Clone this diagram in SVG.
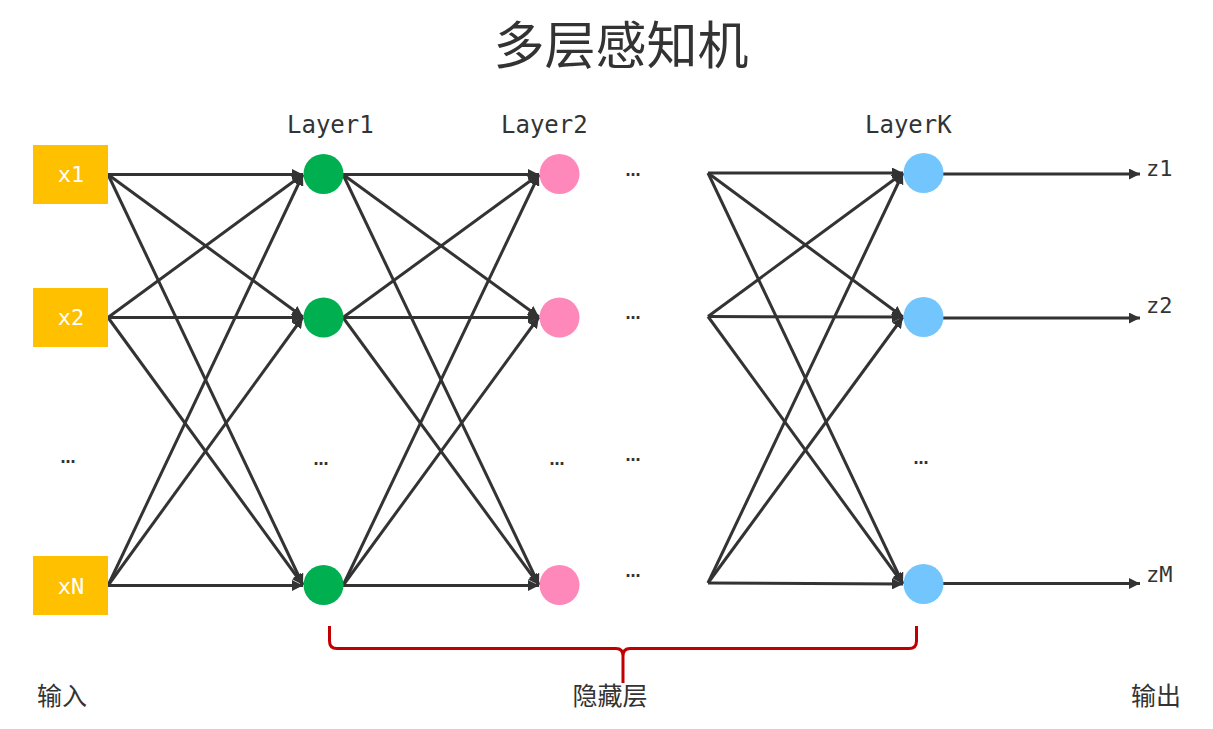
<svg xmlns="http://www.w3.org/2000/svg" width="1213" height="729" viewBox="0 0 1213 729">
<style>
.e{stroke:#333333;stroke-width:3;fill:none;marker-end:url(#ah)}
.in{fill:#FFC000}
.g{fill:#00B050}
.p{fill:#FF88BB}
.b{fill:#73C6FD}
.lbl{font-family:"DejaVu Sans Mono","Liberation Mono",monospace;font-size:24px;fill:#333333}
.zl{font-family:"DejaVu Sans Mono","Liberation Mono",monospace;font-size:22px;fill:#333333}
.xt{font-family:"DejaVu Sans Mono","Liberation Mono",monospace;font-size:22px;fill:#FFFFFF;text-anchor:middle}
.dots{font-family:"DejaVu Sans","Liberation Sans",sans-serif;font-size:15px;font-weight:bold;fill:#333333;text-anchor:middle}
.cn{font-family:"Noto Sans CJK SC","Noto Sans",sans-serif;font-size:25px;fill:#333333}
.title{font-family:"Noto Sans CJK SC","Noto Sans",sans-serif;font-size:51px;fill:#333333;text-anchor:middle}
</style>
<defs>
<marker id="ah" markerUnits="userSpaceOnUse" markerWidth="12" markerHeight="11" refX="11" refY="5.5" orient="auto">
<path d="M0,0 L11,5.5 L0,11 z" fill="#333333"/>
</marker>
</defs>
<rect width="1213" height="729" fill="#FFFFFF"/>
<text class="title" x="621" y="64">多层感知机</text>

<g id="connectors">
<line class="e" x1="108" y1="174.5" x2="303" y2="174.5"/>
<line class="e" x1="108" y1="174.5" x2="303" y2="317"/>
<line class="e" x1="108" y1="174.5" x2="303" y2="585"/>
<line class="e" x1="108" y1="317.5" x2="303" y2="174.5"/>
<line class="e" x1="108" y1="317.5" x2="303" y2="317.5"/>
<line class="e" x1="108" y1="317.5" x2="303" y2="585"/>
<line class="e" x1="108" y1="585.5" x2="303" y2="174.5"/>
<line class="e" x1="108" y1="585.5" x2="303" y2="317"/>
<line class="e" x1="108" y1="585.5" x2="303" y2="585.5"/>

<line class="e" x1="343" y1="174.5" x2="539" y2="174.5"/>
<line class="e" x1="343" y1="174.5" x2="539" y2="317"/>
<line class="e" x1="343" y1="174.5" x2="539" y2="585"/>
<line class="e" x1="343" y1="317.5" x2="539" y2="174.5"/>
<line class="e" x1="343" y1="317.5" x2="539" y2="317.5"/>
<line class="e" x1="343" y1="317.5" x2="539" y2="585"/>
<line class="e" x1="343" y1="585.5" x2="539" y2="174.5"/>
<line class="e" x1="343" y1="585.5" x2="539" y2="317"/>
<line class="e" x1="343" y1="585.5" x2="539" y2="585.5"/>

<line class="e" x1="708" y1="173" x2="903" y2="173"/>
<line class="e" x1="708" y1="173" x2="903" y2="317"/>
<line class="e" x1="708" y1="173" x2="903" y2="584"/>
<line class="e" x1="708" y1="316.5" x2="903" y2="173"/>
<line class="e" x1="708" y1="316.5" x2="903" y2="317"/>
<line class="e" x1="708" y1="316.5" x2="903" y2="584"/>
<line class="e" x1="708" y1="583" x2="903" y2="173"/>
<line class="e" x1="708" y1="583" x2="903" y2="317"/>
<line class="e" x1="708" y1="583" x2="903" y2="584"/>

<line class="e" x1="943" y1="174" x2="1140" y2="174"/>
<line class="e" x1="943" y1="318" x2="1140" y2="318"/>
<line class="e" x1="943" y1="583.5" x2="1140" y2="583.5"/>
</g>

<g id="x1"><rect class="in" x="33" y="145" width="75" height="59"/><text class="xt" x="71" y="182">x1</text></g>
<g id="x2"><rect class="in" x="33" y="288" width="75" height="59"/><text class="xt" x="71" y="325">x2</text></g>
<g id="xN"><rect class="in" x="33" y="556" width="75" height="59"/><text class="xt" x="71" y="594">xN</text></g>
<g id="in-dots"><text class="dots" x="68" y="463">…</text></g>

<g id="layer1">
<text class="lbl" x="287" y="133">Layer1</text>
<circle class="g" cx="323.5" cy="174" r="20"/>
<circle class="g" cx="323.5" cy="317.5" r="20"/>
<text class="dots" x="321" y="465">…</text>
<circle class="g" cx="323.5" cy="585" r="20"/>
</g>

<g id="layer2">
<text class="lbl" x="501" y="133">Layer2</text>
<circle class="p" cx="559.5" cy="174" r="20"/>
<circle class="p" cx="559.5" cy="317.5" r="20"/>
<text class="dots" x="557" y="465">…</text>
<circle class="p" cx="559.5" cy="585" r="20"/>
</g>

<g id="mid-dots">
<text class="dots" x="633" y="176">…</text>
<text class="dots" x="633" y="319">…</text>
<text class="dots" x="633" y="461">…</text>
<text class="dots" x="633" y="577">…</text>
</g>

<g id="layerK">
<text class="lbl" x="865" y="133">LayerK</text>
<circle class="b" cx="923.5" cy="173" r="20"/>
<circle class="b" cx="923.5" cy="317" r="20"/>
<text class="dots" x="921" y="464">…</text>
<circle class="b" cx="923.5" cy="584" r="20"/>
</g>

<g id="outputs">
<text class="zl" x="1146" y="176">z1</text>
<text class="zl" x="1146" y="313">z2</text>
<text class="zl" x="1146" y="582">zM</text>
</g>

<g id="brace">
<path d="M329.5,626 L329.5,641 Q329.5,648.5 337,648.5 L616,648.5 Q623,648.5 623,656 L623,683 M623,656 Q623,648.5 630,648.5 L909,648.5 Q916.5,648.5 916.5,641 L916.5,626" fill="none" stroke="#C00000" stroke-width="3"/>
</g>

<text class="cn" x="37" y="705">输入</text>
<text class="cn" x="610" y="705" text-anchor="middle">隐藏层</text>
<text class="cn" x="1131" y="705">输出</text>
</svg>
